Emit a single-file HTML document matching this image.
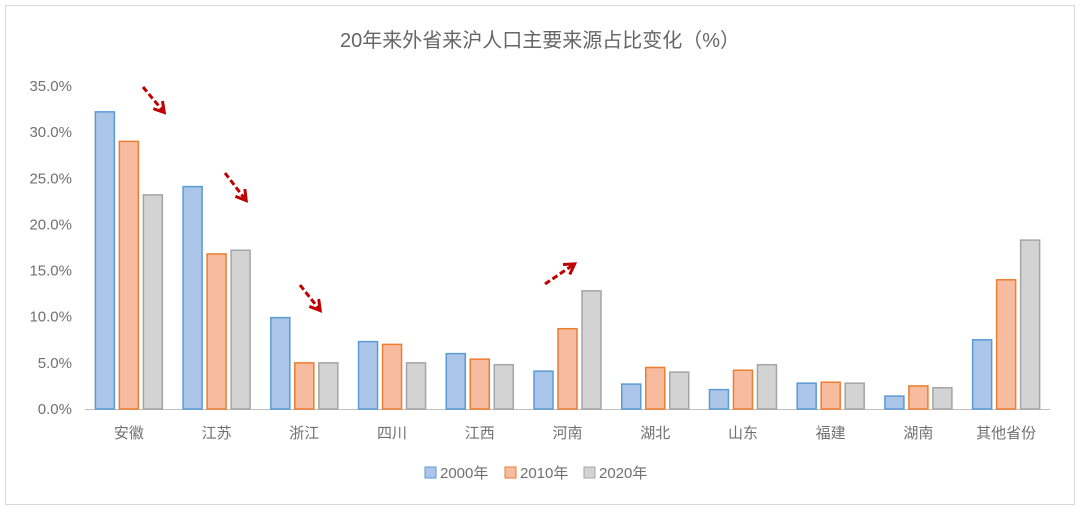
<!DOCTYPE html>
<html><head><meta charset="utf-8"><style>
body{margin:0;background:#fff;}
svg{display:block;font-family:"Liberation Sans","Noto Sans CJK SC",sans-serif;}
</style></head><body>
<svg id="s" width="1080" height="510" xmlns="http://www.w3.org/2000/svg">
<defs>
<marker id="ah" markerWidth="14" markerHeight="14" refX="9" refY="7" orient="auto" markerUnits="userSpaceOnUse"><path d="M1,1 L11,7 L1,13" fill="none" stroke="#c00000" stroke-width="3"/></marker>
</defs>
<rect x="5.5" y="5.5" width="1069" height="499" fill="#fff" stroke="#d9d9d9"/>
<text x="540" y="47" text-anchor="middle" font-size="20" fill="#666">20年来外省来沪人口主要来源占比变化（%）</text>
<g id="g"></g>
<g stroke="#c00000" stroke-width="3" stroke-dasharray="6,3" fill="none">
<line x1="143" y1="87" x2="163" y2="111" marker-end="url(#ah)"/>
<line x1="225" y1="173" x2="245" y2="199" marker-end="url(#ah)"/>
<line x1="300" y1="285" x2="319" y2="309" marker-end="url(#ah)"/>
<line x1="545" y1="284" x2="573" y2="265" marker-end="url(#ah)"/>
</g>
<rect x="425" y="467" width="11" height="11" fill="#abc6e8" stroke="#5b9bd5"/>
<text x="440" y="478" font-size="15" fill="#707070">2000年</text>
<rect x="505" y="467" width="11" height="11" fill="#f7bca0" stroke="#ed7d31"/>
<text x="520" y="478" font-size="15" fill="#707070">2010年</text>
<rect x="584" y="467" width="11" height="11" fill="#d3d3d3" stroke="#a5a5a5"/>
<text x="599" y="478" font-size="15" fill="#707070">2020年</text>
</svg>
<script>
var g=document.getElementById('g'),h='';
var y0=409,k=(409-86)/35;
for(var i=0;i<=7;i++){var y=y0-i*5*k;h+='<text x="72" y="'+(y+5)+'" text-anchor="end" font-size="15" fill="#707070">'+(i*5)+'.0%</text>';}
h+='<line x1="85" y1="409.5" x2="1050" y2="409.5" stroke="#bfbfbf"/>';
var cats=['安徽','江苏','浙江','四川','江西','河南','湖北','山东','福建','湖南','其他省份'];
var d=[[32.2,29.0,23.2],[24.1,16.8,17.2],[9.9,5.0,5.0],[7.3,7.0,5.0],[6.0,5.4,4.8],[4.1,8.7,12.8],[2.7,4.5,4.0],[2.1,4.2,4.8],[2.8,2.9,2.8],[1.4,2.5,2.3],[7.5,14.0,18.3]];
var f=['#abc6e8','#f7bca0','#d3d3d3'],s=['#5b9bd5','#ed7d31','#a5a5a5'];
var w=(1050-85)/11;
for(var c=0;c<11;c++){var cx=85+w*(c+0.5);
for(var j=0;j<3;j++){var v=d[c][j]*k;var x=cx-34+j*24;
h+='<rect x="'+(x+0.5)+'" y="'+(y0-v)+'" width="19" height="'+v+'" fill="'+f[j]+'" stroke="'+s[j]+'" stroke-width="1.5"/>';}
h+='<text x="'+cx+'" y="438" text-anchor="middle" font-size="15" fill="#707070">'+cats[c]+'</text>';}
g.innerHTML=h;
</script>
</body></html>
